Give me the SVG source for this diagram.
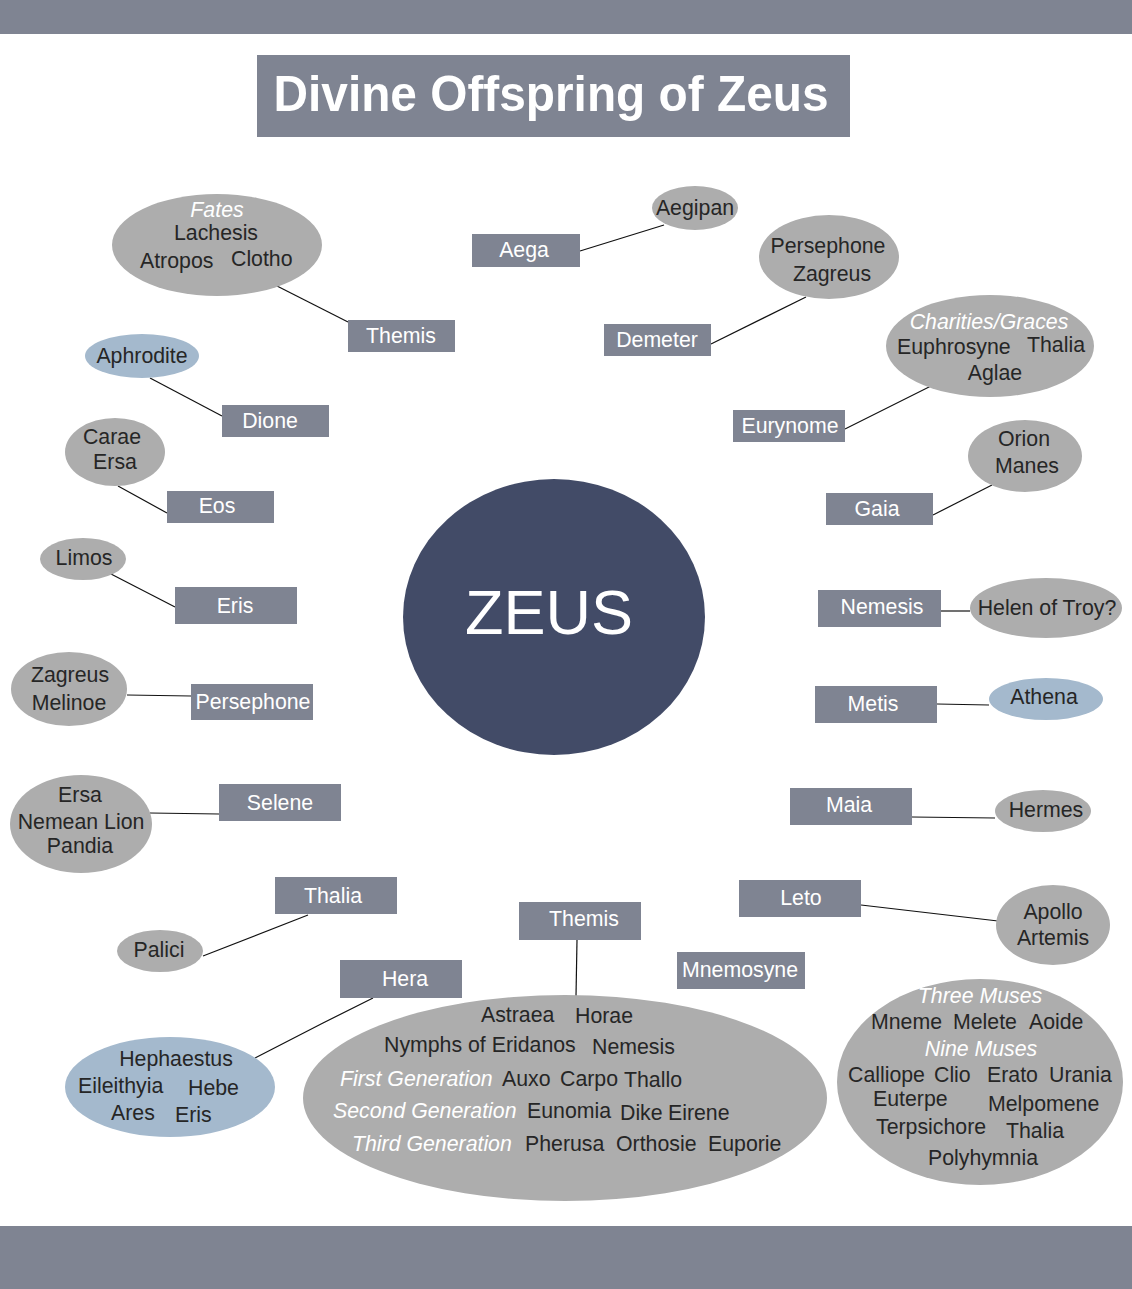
<svg xmlns="http://www.w3.org/2000/svg" width="1132" height="1289" viewBox="0 0 1132 1289">
<style>
text{font-family:"Liberation Sans",Arial,sans-serif;font-size:21.3px}
.bar{fill:#7f8492}
.box{fill:#7f8492}
.bt{fill:#ffffff;text-anchor:middle}
.ell{fill:#adadad}
.blue{fill:#a4b9cd}
.et{fill:#262626}
.c{text-anchor:middle}
.it{fill:#ffffff;font-style:italic}
.ln{stroke:#111111;stroke-width:1.2;fill:none}
</style>
<rect class="bar" x="0" y="0" width="1132" height="34"/>
<rect class="bar" x="0" y="1226" width="1132" height="63"/>
<g id="title">
<rect class="box" x="257" y="55" width="593" height="82"/>
<text x="551" y="111" fill="#ffffff" text-anchor="middle" font-weight="bold" style="font-size:50px" textLength="555" lengthAdjust="spacingAndGlyphs">Divine Offspring of Zeus</text>
</g>
<g id="connectors">
<line class="ln" x1="277" y1="286" x2="348" y2="322"/>
<line class="ln" x1="580" y1="251" x2="664" y2="225"/>
<line class="ln" x1="711" y1="344" x2="806" y2="297"/>
<line class="ln" x1="150" y1="378" x2="222" y2="416"/>
<line class="ln" x1="845" y1="429" x2="931" y2="386"/>
<line class="ln" x1="118" y1="486" x2="167" y2="513"/>
<line class="ln" x1="933" y1="515" x2="992" y2="485"/>
<line class="ln" x1="111" y1="574" x2="175" y2="607"/>
<line class="ln" x1="941" y1="611" x2="970" y2="611"/>
<line class="ln" x1="127" y1="695" x2="191" y2="696"/>
<line class="ln" x1="937" y1="704" x2="989" y2="705"/>
<line class="ln" x1="150" y1="813" x2="219" y2="814"/>
<line class="ln" x1="912" y1="817" x2="995" y2="818"/>
<line class="ln" x1="203" y1="956" x2="308" y2="915"/>
<line class="ln" x1="861" y1="905" x2="998" y2="921"/>
<line class="ln" x1="577" y1="940" x2="576" y2="996"/>
<polyline class="ln" points="255,1058 323,1023 373,998"/>
</g>
<g id="zeus">
<ellipse cx="554" cy="617" rx="151" ry="138" fill="#424b67"/>
<text x="549" y="634" fill="#ffffff" text-anchor="middle" style="font-size:63px">ZEUS</text>
</g>
<g id="themis-top"><rect class="box" x="348" y="320" width="107" height="32"/><text class="bt" x="401" y="343">Themis</text></g>
<g id="aega"><rect class="box" x="472" y="234" width="108" height="33"/><text class="bt" x="524" y="257">Aega</text></g>
<g id="demeter"><rect class="box" x="604" y="324" width="107" height="32"/><text class="bt" x="657" y="347">Demeter</text></g>
<g id="dione"><rect class="box" x="222" y="405" width="107" height="32"/><text class="bt" x="270" y="428">Dione</text></g>
<g id="eurynome"><rect class="box" x="733" y="410" width="112" height="32"/><text class="bt" x="790" y="433">Eurynome</text></g>
<g id="eos"><rect class="box" x="167" y="491" width="107" height="32"/><text class="bt" x="217" y="513">Eos</text></g>
<g id="gaia"><rect class="box" x="826" y="493" width="107" height="32"/><text class="bt" x="877" y="516">Gaia</text></g>
<g id="eris"><rect class="box" x="175" y="587" width="122" height="37"/><text class="bt" x="235" y="613">Eris</text></g>
<g id="nemesis"><rect class="box" x="818" y="590" width="123" height="37"/><text class="bt" x="882" y="614">Nemesis</text></g>
<g id="persephone"><rect class="box" x="191" y="684" width="122" height="36"/><text class="bt" x="253" y="709">Persephone</text></g>
<g id="metis"><rect class="box" x="815" y="686" width="122" height="37"/><text class="bt" x="873" y="711">Metis</text></g>
<g id="selene"><rect class="box" x="219" y="784" width="122" height="37"/><text class="bt" x="280" y="810">Selene</text></g>
<g id="maia"><rect class="box" x="790" y="788" width="122" height="37"/><text class="bt" x="849" y="812">Maia</text></g>
<g id="thalia"><rect class="box" x="275" y="877" width="122" height="37"/><text class="bt" x="333" y="903">Thalia</text></g>
<g id="leto"><rect class="box" x="739" y="880" width="122" height="37"/><text class="bt" x="801" y="905">Leto</text></g>
<g id="themis-bottom"><rect class="box" x="519" y="902" width="122" height="38"/><text class="bt" x="584" y="926">Themis</text></g>
<g id="mnemosyne"><rect class="box" x="677" y="952" width="128" height="37"/><text class="bt" x="740" y="977">Mnemosyne</text></g>
<g id="hera"><rect class="box" x="340" y="960" width="122" height="38"/><text class="bt" x="405" y="986">Hera</text></g>

<g id="fates"><ellipse class="ell" cx="217" cy="245" rx="105" ry="51"/>
<text class="it c" x="217" y="217">Fates</text>
<text class="et c" x="216" y="240">Lachesis</text>
<text class="et" x="140" y="268">Atropos</text><text class="et" x="231" y="266">Clotho</text></g>
<g id="aegipan"><ellipse class="ell" cx="695" cy="208" rx="43" ry="22"/><text class="et c" x="695" y="215">Aegipan</text></g>
<g id="persephone-zagreus"><ellipse class="ell" cx="829" cy="257" rx="70" ry="42"/><text class="et c" x="828" y="253">Persephone</text><text class="et c" x="832" y="281">Zagreus</text></g>
<g id="aphrodite"><ellipse class="blue" cx="142" cy="356" rx="57" ry="22"/><text class="et c" x="142" y="363">Aphrodite</text></g>
<g id="charities"><ellipse class="ell" cx="990" cy="346" rx="104" ry="51"/>
<text class="it c" x="989" y="329">Charities/Graces</text>
<text class="et" x="897" y="354">Euphrosyne</text><text class="et" x="1027" y="352">Thalia</text>
<text class="et c" x="995" y="380">Aglae</text></g>
<g id="carae"><ellipse class="ell" cx="115" cy="452" rx="50" ry="34"/><text class="et c" x="112" y="444">Carae</text><text class="et c" x="115" y="469">Ersa</text></g>
<g id="orion"><ellipse class="ell" cx="1025" cy="456" rx="57" ry="36"/><text class="et c" x="1024" y="446">Orion</text><text class="et c" x="1027" y="473">Manes</text></g>
<g id="limos"><ellipse class="ell" cx="83" cy="559" rx="43" ry="21"/><text class="et c" x="84" y="565">Limos</text></g>
<g id="helen"><ellipse class="ell" cx="1046" cy="608" rx="76" ry="30"/><text class="et c" x="1047" y="615">Helen of Troy?</text></g>
<g id="zagreus-melinoe"><ellipse class="ell" cx="69" cy="689" rx="58" ry="37"/><text class="et c" x="70" y="682">Zagreus</text><text class="et c" x="69" y="710">Melinoe</text></g>
<g id="athena"><ellipse class="blue" cx="1046" cy="699" rx="57" ry="21"/><text class="et c" x="1044" y="704">Athena</text></g>
<g id="ersa"><ellipse class="ell" cx="81" cy="824" rx="71" ry="49"/><text class="et c" x="80" y="802">Ersa</text><text class="et c" x="81" y="829">Nemean Lion</text><text class="et c" x="80" y="853">Pandia</text></g>
<g id="hermes"><ellipse class="ell" cx="1043" cy="811" rx="48" ry="21"/><text class="et c" x="1046" y="817">Hermes</text></g>
<g id="palici"><ellipse class="ell" cx="160" cy="951" rx="43" ry="21"/><text class="et c" x="159" y="957">Palici</text></g>
<g id="apollo"><ellipse class="ell" cx="1053" cy="925" rx="57" ry="40"/><text class="et c" x="1053" y="919">Apollo</text><text class="et c" x="1053" y="945">Artemis</text></g>
<g id="hera-children"><ellipse class="blue" cx="170" cy="1087" rx="105" ry="50"/>
<text class="et c" x="176" y="1066">Hephaestus</text>
<text class="et" x="78" y="1093">Eileithyia</text><text class="et" x="188" y="1095">Hebe</text>
<text class="et" x="111" y="1120">Ares</text><text class="et" x="175" y="1122">Eris</text></g>
<g id="themis-children"><ellipse class="ell" cx="565" cy="1098" rx="262" ry="103"/>
<text class="et" x="481" y="1022">Astraea</text><text class="et" x="575" y="1023">Horae</text>
<text class="et" x="384" y="1052">Nymphs of Eridanos</text><text class="et" x="592" y="1054">Nemesis</text>
<text class="it" x="340" y="1086">First Generation</text><text class="et" x="502" y="1086">Auxo</text><text class="et" x="560" y="1086">Carpo</text><text class="et" x="624" y="1087">Thallo</text>
<text class="it" x="333" y="1118">Second Generation</text><text class="et" x="527" y="1118">Eunomia</text><text class="et" x="620" y="1120">Dike</text><text class="et" x="668" y="1120">Eirene</text>
<text class="it" x="352" y="1151">Third Generation</text><text class="et" x="525" y="1151">Pherusa</text><text class="et" x="616" y="1151">Orthosie</text><text class="et" x="708" y="1151">Euporie</text></g>
<g id="muses"><ellipse class="ell" cx="980" cy="1082" rx="143" ry="103"/>
<text class="it c" x="980" y="1003">Three Muses</text>
<text class="et" x="871" y="1029">Mneme</text><text class="et" x="953" y="1029">Melete</text><text class="et" x="1029" y="1029">Aoide</text>
<text class="it c" x="981" y="1056">Nine Muses</text>
<text class="et" x="848" y="1082">Calliope</text><text class="et" x="934" y="1082">Clio</text><text class="et" x="987" y="1082">Erato</text><text class="et" x="1049" y="1082">Urania</text>
<text class="et" x="873" y="1106">Euterpe</text><text class="et" x="988" y="1111">Melpomene</text>
<text class="et" x="876" y="1134">Terpsichore</text><text class="et" x="1006" y="1138">Thalia</text>
<text class="et c" x="983" y="1165">Polyhymnia</text></g>
</svg>
